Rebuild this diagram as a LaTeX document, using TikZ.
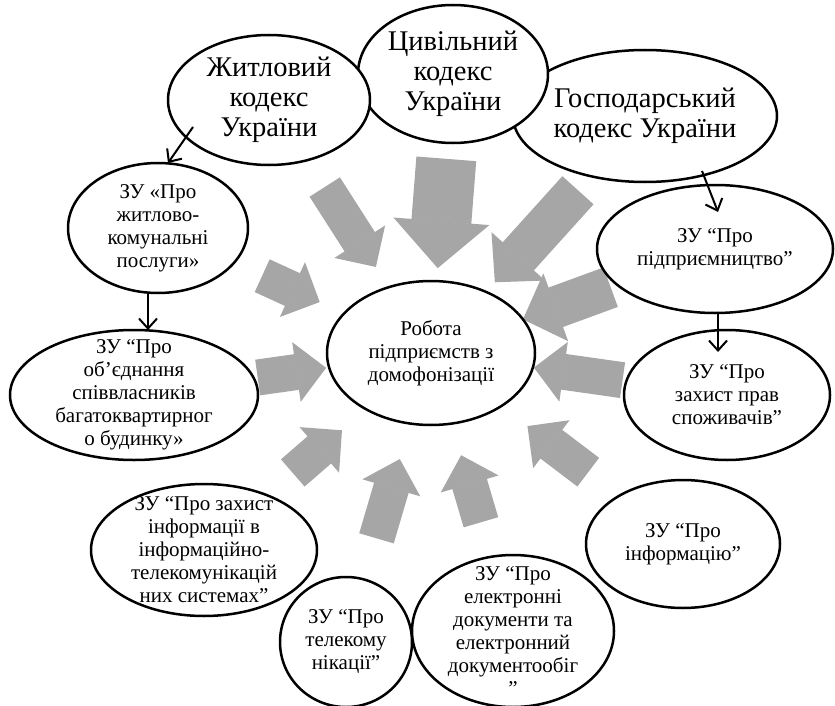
\documentclass[tikz,border=0pt]{standalone}
\usepackage{fontspec}
\setmainfont{Liberation Serif}
\usetikzlibrary{shapes,arrows.meta,positioning,backgrounds}
\definecolor{flowgray}{RGB}{166,166,166}

\begin{document}
\begin{tikzpicture}[
    x=1pt, y=-1pt,
    kodeks/.style={ellipse, draw=black, line width=2.5pt, fill=white, inner sep=-40pt, outer sep=0pt, align=center, font=\rmfamily\fontsize{28.5}{30}\selectfont},
    zakon/.style={kodeks, font=\rmfamily\fontsize{21}{23}\selectfont},
    arrow/.style={-{Straight Barb[length=10pt,width=18pt]}, line width=2pt},
    flow/.style={draw=flowgray, line width=36pt, -{Triangle[length=30pt,width=60pt,line width=1.5pt]}},
    midflow/.style={flow, line width=42pt, -{Triangle[length=35pt,width=72pt,line width=1.5pt]}},
    bigflow/.style={flow, line width=60pt, -{Triangle[length=47pt,width=96pt,line width=1.5pt]}}
]
\useasboundingbox (0,0) rectangle (835,706);

% Codes
\node[kodeks, minimum width=264pt, minimum height=132pt] (gk) at (645,116) {Господарський\\кодекс України};
\node[kodeks, minimum width=190pt, minimum height=138pt] (ck) at (453,74) {Цивільний\\кодекс\\України};
\node[kodeks, minimum width=202pt, minimum height=130pt] (zhk) at (269,100) {Житловий\\кодекс\\України};

% Centre
\node[zakon, minimum width=208pt, minimum height=144pt] (robota) at (431,353) {Робота\\підприємств з\\домофонізації};

% Laws (left)
\node[zakon, minimum width=180pt, minimum height=130pt] (zu1) at (158,228) {ЗУ «Про\\житлово-\\комунальні\\послуги»};
\node[zakon, minimum width=248pt, minimum height=130pt] (zu2) at (134,395) {ЗУ “Про\\об’єднання\\співвласників\\багатоквартирног\\о будинку»};
\node[zakon, minimum width=226pt, minimum height=132pt] (zinf) at (204,550) {ЗУ “Про захист\\інформації в\\інформаційно-\\телекомунікацій\\них системах”};

% Laws (bottom)
\node[zakon, minimum width=132pt, minimum height=130pt] (tel) at (346,642) {ЗУ “Про\\телекому\\нікації”};
\node[zakon, minimum width=202pt, minimum height=152pt] (el) at (513,631) {ЗУ “Про\\електронні\\документи та\\електронний\\документообіг\\”};

% Laws (right)
\node[zakon, minimum width=236pt, minimum height=128pt] (pidpr) at (715,249) {ЗУ “Про\\підприємництво”};
\node[zakon, minimum width=206pt, minimum height=130pt] (spozh) at (727,395) {ЗУ “Про\\захист прав\\споживачів”};
\node[zakon, minimum width=194pt, minimum height=128pt] (inf) at (683,544) {ЗУ “Про\\інформацію”};

% Black arrows
\draw[arrow] ([xshift=-76pt, yshift=-27pt]zhk.center) -- ([xshift=10pt]zu1.north);
\draw[arrow] ([xshift=-10pt]zu1.south) -- ([xshift=14pt]zu2.north);
\draw[arrow] ([xshift=57pt, yshift=-55pt]gk.center) -- ([xshift=3pt, yshift=-27pt]pidpr.north);
\draw[arrow] ([xshift=3pt]pidpr.south) -- ([xshift=-9pt, yshift=-22pt]spozh.north);

% Grey arrows to the centre
\begin{scope}[on background layer]
\draw[bigflow, shorten <=16pt, shorten >=13pt] (ck) -- (robota);
\draw[flow, shorten <=32pt, shorten >=24pt] (zhk) -- (robota);
\draw[flow, shorten <=31pt, shorten >=27pt] (zu1) -- (robota);
\draw[midflow, shorten <=19pt, shorten >=13pt] (gk) -- (robota);
\draw[midflow, shorten <=7pt] (pidpr) -- (robota);
\draw[flow, shorten <=4pt, shorten >=1pt] (spozh) -- (robota);
\draw[flow, shorten <=4pt, shorten >=3pt] (zu2) -- (robota);
\draw[flow, shorten <=34pt, shorten >=32pt] (zinf) -- (robota);
\draw[flow, shorten <=43pt, shorten >=37pt] (tel) -- (robota);
\draw[flow, shorten <=36pt, shorten >=33pt] (el) -- (robota);
\draw[flow, shorten <=39pt, shorten >=33pt] (inf) -- (robota);
\end{scope}

\end{tikzpicture}
\end{document}
